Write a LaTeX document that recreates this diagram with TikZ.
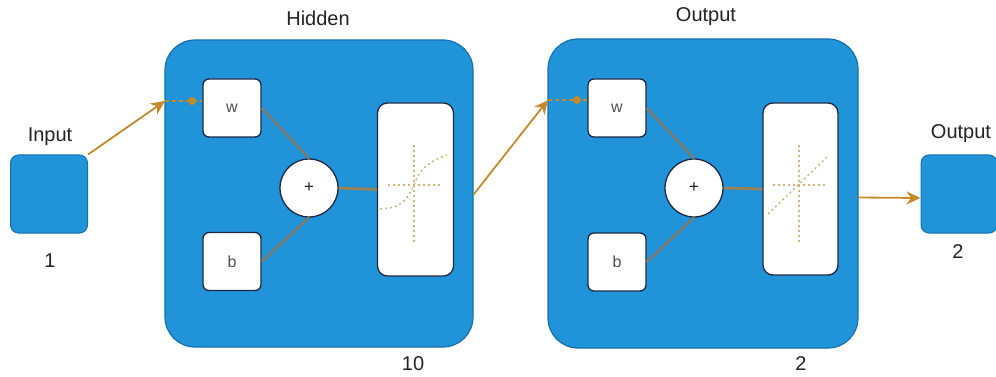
\documentclass[tikz,border=0pt]{standalone}
\usepackage{fontspec}
\setmainfont{Liberation Sans}
\usetikzlibrary{arrows.meta,calc}
\definecolor{lblue}{RGB}{33,147,216}
\definecolor{lborder}{RGB}{22,112,172}
\definecolor{arrc}{RGB}{196,138,42}
\definecolor{innerc}{RGB}{118,124,118}
\definecolor{dotc}{RGB}{206,184,130}
\definecolor{navy}{RGB}{30,40,70}
\definecolor{txt}{RGB}{35,35,35}
\tikzset{
  layer/.style={draw=lborder, line width=1.2pt, fill=lblue, rounded corners=30pt, minimum width=308pt, minimum height=307pt, inner sep=0pt},
  io/.style={draw=lborder, line width=1pt, fill=lblue, rounded corners=8pt, minimum width=77pt, minimum height=78pt, inner sep=0pt},
  wbox/.style={draw=navy, line width=1.3pt, fill=white, rounded corners=6pt, minimum width=58pt, minimum height=58pt, inner sep=0pt, font=\fontsize{16}{18}\selectfont, text=txt!80},
  sumc/.style={draw=navy, line width=1.3pt, fill=white, circle, minimum size=58pt, inner sep=0pt, font=\fontsize{17}{19}\selectfont, text=txt},
  tfbox/.style={draw=navy, line width=1.3pt, fill=white, rounded corners=10pt, minimum width=76pt, minimum height=173pt, inner sep=0pt},
  lbl/.style={font=\fontsize{20}{22}\selectfont, text=txt, inner sep=0pt},
  arr/.style={draw=arrc, line width=1.8pt, -{Stealth[length=14pt,width=13pt]}},
  inarr/.style={draw=arrc, line width=1.8pt, dash pattern=on 4pt off 3pt},
  inner/.style={draw=innerc, line width=2.8pt},
  tfline/.style={draw=dotc, line width=1.5pt, dash pattern=on 2pt off 3pt},
}
\begin{document}
\begin{tikzpicture}[x=1pt,y=-1pt]
\useasboundingbox (0,0) rectangle (996,377);
% layers
\node[io] (inp) at (49,194) {};
\node[layer] (hid) at (319,193.5) {};
\node[layer, minimum width=310pt, minimum height=309pt] (oly) at (703,193.5) {};
\node[io, minimum width=76pt] (out) at (959,194) {};
% labels
\node[lbl] (linp) at (50,137) {Input};
\node[lbl] (l1) at (50,261) {1};
\node[lbl] (lhid) at (318,18) {Hidden};
\node[lbl] (loly) at (706,17) {Output};
\node[lbl] (l10) at (413,364) {10};
\node[lbl] (l2a) at (801,364) {2};
\node[lbl] (lout) at (961,134) {Output};
\node[lbl] (l2b) at (958,252) {2};
% hidden internals
\node[wbox] (hw) at (232,108) {w};
\node[wbox] (hb) at (232,261.5) {b};
\node[sumc] (hsum) at (309,188) {+};
\node[tfbox] (htf) at (415.5,189.5) {};
% output internals
\node[wbox] (ow) at (617,108) {w};
\node[wbox] (ob) at (617,262) {b};
\node[sumc] (osum) at (694,188) {+};
\node[tfbox, minimum width=75pt, minimum height=172pt] (otf) at (800.5,189) {};
% inner lines
\draw[inner] (hw.east) -- (hsum.north);
\draw[inner] (hb.east) -- (hsum.south);
\draw[inner, draw=arrc!45!innerc] (hsum.east) -- (htf.west);
\draw[inner] (ow.east) -- (osum.north);
\draw[inner] (ob.east) -- (osum.south);
\draw[inner, draw=arrc!45!innerc] (osum.east) -- (otf.west);
% transfer functions
\coordinate (hc) at (414,185);
\draw[tfline] ($(hc)+(0,-40)$) -- ($(hc)+(0,57)$);
\draw[tfline] ($(hc)+(-26,0)$) -- ($(hc)+(26,0)$);
\draw[tfline] plot[smooth] coordinates {(380,209) (394,207) (404,201) (410,193) (414,185) (418,176) (425,167) (435,160) (447,155)};
\coordinate (oc) at (799,185);
\draw[tfline] ($(oc)+(0,-40)$) -- ($(oc)+(0,57)$);
\draw[tfline] ($(oc)+(-26,0)$) -- ($(oc)+(26,0)$);
\draw[tfline] (768,214) -- (828,156);
% connectors
\coordinate (hin) at (165,101);
\coordinate (oin) at (548,100);
\coordinate (hdot) at (192,101);
\coordinate (odot) at (577,100);
\draw[arr] (inp.north east) -- (hin);
\draw[inarr] (hin) -- (hin -| hw.west);
\fill[arrc] (hdot) circle (4pt);
\draw[arr] ($(hid.east)+(0,1)$) -- (oin);
\draw[inarr] (oin) -- (oin -| ow.west);
\fill[arrc] (odot) circle (4pt);
\draw[arr] ($(oly.east)+(0,4)$) -- ($(out.west)+(0,4)$);
\end{tikzpicture}
\end{document}
